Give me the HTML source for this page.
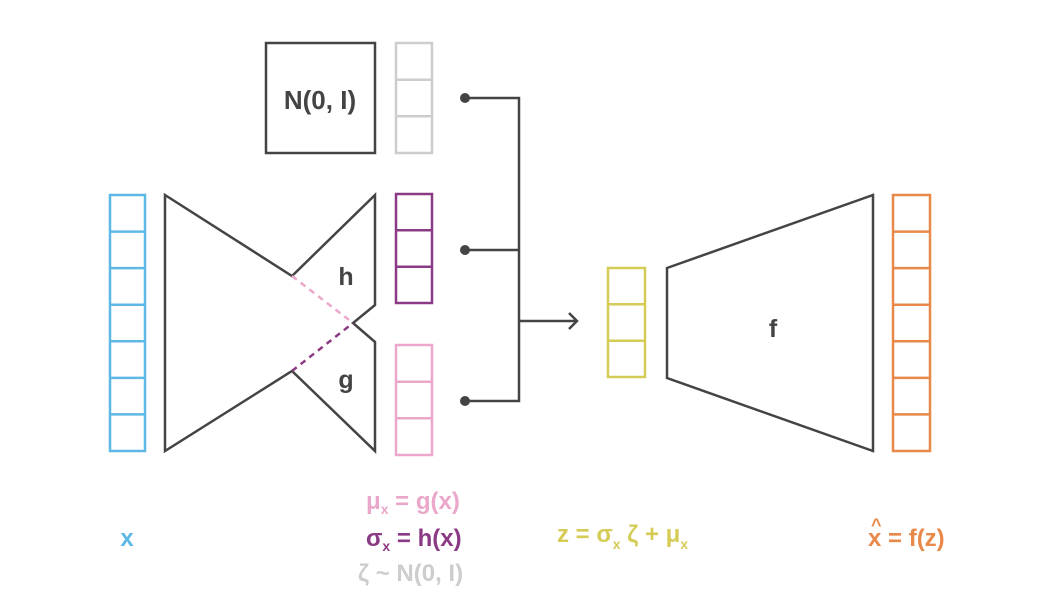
<!DOCTYPE html>
<html><head><meta charset="utf-8"><style>
html,body{margin:0;padding:0;background:#fff;width:1040px;height:605px;overflow:hidden}
text{font-family:"Liberation Sans","DejaVu Sans",sans-serif;font-weight:bold}
</style></head><body>
<svg width="1040" height="605" viewBox="0 0 1040 605" xmlns="http://www.w3.org/2000/svg">
<g fill="none" stroke-width="2.5">
<g stroke="#5db8e6">
<rect x="110" y="195" width="35" height="256"/>
<line x1="110" y1="231.6" x2="145" y2="231.6"/><line x1="110" y1="268.1" x2="145" y2="268.1"/>
<line x1="110" y1="304.7" x2="145" y2="304.7"/><line x1="110" y1="341.3" x2="145" y2="341.3"/>
<line x1="110" y1="377.9" x2="145" y2="377.9"/><line x1="110" y1="414.4" x2="145" y2="414.4"/>
</g>
<polygon stroke="#444" points="165,195 292,276 375,195 375,305 353,323 375,342 375,451 292,371 165,451"/>
<line x1="292" y1="276" x2="353" y2="323" stroke="#eba7c9" stroke-dasharray="6,5"/>
<line x1="292" y1="371" x2="353" y2="323" stroke="#8b3a85" stroke-dasharray="6,5"/>
<rect x="266" y="43" width="109" height="110" stroke="#444"/>
<g stroke="#cdcdcd"><rect x="396" y="43" width="36" height="110"/>
<line x1="396" y1="79.7" x2="432" y2="79.7"/><line x1="396" y1="116.3" x2="432" y2="116.3"/></g>
<g stroke="#8b3a85"><rect x="396" y="194" width="36" height="109"/>
<line x1="396" y1="230.3" x2="432" y2="230.3"/><line x1="396" y1="266.7" x2="432" y2="266.7"/></g>
<g stroke="#eba7c9"><rect x="396" y="345" width="36" height="110"/>
<line x1="396" y1="381.7" x2="432" y2="381.7"/><line x1="396" y1="418.3" x2="432" y2="418.3"/></g>
<g stroke="#444">
<polyline points="465,98 519,98 519,401 465,401"/>
<line x1="465" y1="250" x2="519" y2="250"/>
<line x1="519" y1="321" x2="577" y2="321"/>
<polyline points="569,313 577,321 569,329"/>
</g>
<g fill="#444" stroke="none"><circle cx="465" cy="98" r="5"/><circle cx="465" cy="250" r="5"/><circle cx="465" cy="401" r="5"/></g>
<g stroke="#d4cc55"><rect x="608" y="268" width="37" height="109"/>
<line x1="608" y1="304.3" x2="645" y2="304.3"/><line x1="608" y1="340.7" x2="645" y2="340.7"/></g>
<polygon stroke="#444" points="667,268 873,195 873,451 667,378"/>
<g stroke="#e8894a">
<rect x="893" y="195" width="37" height="256"/>
<line x1="893" y1="231.6" x2="930" y2="231.6"/><line x1="893" y1="268.1" x2="930" y2="268.1"/>
<line x1="893" y1="304.7" x2="930" y2="304.7"/><line x1="893" y1="341.3" x2="930" y2="341.3"/>
<line x1="893" y1="377.9" x2="930" y2="377.9"/><line x1="893" y1="414.4" x2="930" y2="414.4"/>
</g>
</g>
<g fill="#444">
<text x="320" y="109" text-anchor="middle" font-size="26">N(0, I)</text>
<text x="346" y="285" text-anchor="middle" font-size="25">h</text>
<text x="346" y="388" text-anchor="middle" font-size="25">g</text>
<text x="773" y="337" text-anchor="middle" font-size="25">f</text>
</g>
<g font-size="24">
<text x="127" y="546" text-anchor="middle" fill="#5db8e6">x</text>
<text x="366" y="509" fill="#eba7c9">μ<tspan font-size="14" dy="5">x</tspan><tspan dy="-5"> = g(x)</tspan></text>
<text x="366" y="546" fill="#8b3a85">σ<tspan font-size="14" dy="5">x</tspan><tspan dy="-5"> = h(x)</tspan></text>
<text x="358" y="581" fill="#cdcdcd">ζ ~ N(0, I)</text>
<text x="557" y="542" fill="#d4cc55">z = σ<tspan font-size="14" dy="7">x</tspan><tspan dy="-7"> ζ + μ</tspan><tspan font-size="14" dy="7">x</tspan></text>
<text x="868" y="546" fill="#e8894a">x = f(z)</text>
<text x="871" y="531" fill="#e8894a" font-size="18">^</text>
</g>
</svg>
</body></html>
